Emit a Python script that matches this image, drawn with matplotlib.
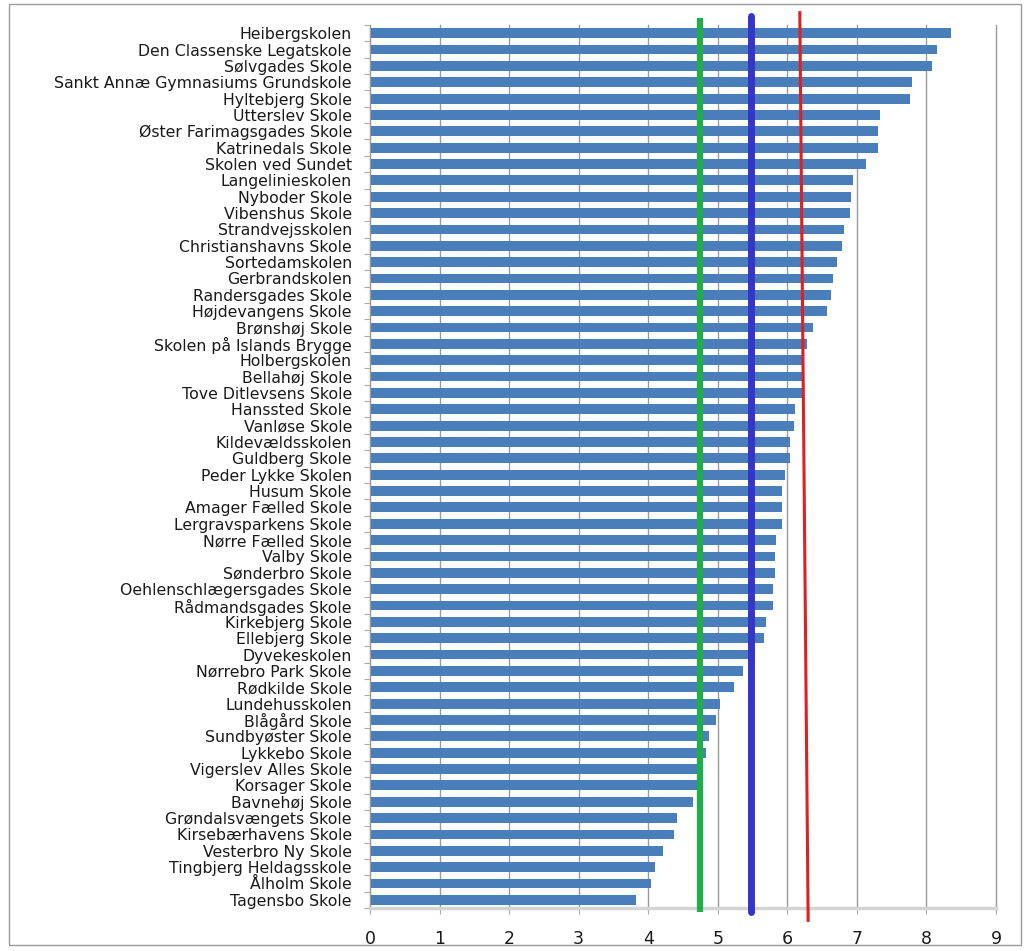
import matplotlib.pyplot as plt
from matplotlib.patches import Rectangle

# schools, top to bottom as in the chart
schools = [
    'Heibergskolen', 'Den Classenske Legatskole', 'Sølvgades Skole',
    'Sankt Annæ Gymnasiums Grundskole', 'Hyltebjerg Skole', 'Utterslev Skole',
    'Øster Farimagsgades Skole', 'Katrinedals Skole', 'Skolen ved Sundet',
    'Langelinieskolen', 'Nyboder Skole', 'Vibenshus Skole', 'Strandvejsskolen',
    'Christianshavns Skole', 'Sortedamskolen', 'Gerbrandskolen',
    'Randersgades Skole', 'Højdevangens Skole', 'Brønshøj Skole',
    'Skolen på Islands Brygge', 'Holbergskolen', 'Bellahøj Skole',
    'Tove Ditlevsens Skole', 'Hanssted Skole', 'Vanløse Skole',
    'Kildevældsskolen', 'Guldberg Skole', 'Peder Lykke Skolen', 'Husum Skole',
    'Amager Fælled Skole', 'Lergravsparkens Skole', 'Nørre Fælled Skole',
    'Valby Skole', 'Sønderbro Skole', 'Oehlenschlægersgades Skole',
    'Rådmandsgades Skole', 'Kirkebjerg Skole', 'Ellebjerg Skole',
    'Dyvekeskolen', 'Nørrebro Park Skole', 'Rødkilde Skole', 'Lundehusskolen',
    'Blågård Skole', 'Sundbyøster Skole', 'Lykkebo Skole',
    'Vigerslev Alles Skole', 'Korsager Skole', 'Bavnehøj Skole',
    'Grøndalsvængets Skole', 'Kirsebærhavens Skole', 'Vesterbro Ny Skole',
    'Tingbjerg Heldagsskole', 'Ålholm Skole', 'Tagensbo Skole',
]

values = [
    8.36, 8.15, 8.08, 7.80, 7.76, 7.33, 7.31, 7.30, 7.13, 6.95, 6.92, 6.90,
    6.82, 6.79, 6.72, 6.66, 6.63, 6.57, 6.37, 6.28, 6.24, 6.22, 6.22, 6.11,
    6.10, 6.04, 6.04, 5.96, 5.93, 5.93, 5.92, 5.84, 5.83, 5.82, 5.79, 5.79,
    5.69, 5.66, 5.53, 5.37, 5.23, 5.03, 4.97, 4.88, 4.83, 4.72, 4.72, 4.64,
    4.42, 4.37, 4.22, 4.10, 4.04, 3.82,
]

# reference lines (red one runs slightly slanted from top to bottom)
green_x = 4.75
blue_x = 5.48
red_x = [6.18, 6.30]

xticks = list(range(0, 10))

plt.rcParams['font.family'] = ['DejaVu Sans']

fig = plt.figure(figsize=(10.26, 9.51), dpi=100)
ax = fig.add_axes([0.3606, 0.0452, 0.6101, 0.9285])

ypos = list(range(len(schools)))
ax.barh(ypos, values, height=0.6, color='#4a7ebb', zorder=2)

ax.set_ylim(len(schools) - 0.5, -0.5)
ax.set_xlim(0, 9)

ax.set_yticks(ypos)
ax.set_yticklabels(schools, fontsize=11.3, color='#1a1a1a')
ax.set_yticks([i + 0.5 for i in range(-1, len(schools))], minor=True)
ax.tick_params(axis='y', which='major', length=0, pad=13)
ax.tick_params(axis='y', which='minor', length=4, color='#aaaaaa', width=0.8)

ax.set_xticks(xticks)
ax.set_xticklabels([str(t) for t in xticks], fontsize=12.5, color='#1a1a1a')
ax.tick_params(axis='x', length=4, color='#aaaaaa', pad=12)

ax.grid(axis='x', color='#9a9a9a', linewidth=1.0, zorder=1)
ax.set_axisbelow(True)
for gl in ax.get_xgridlines():
    gl.set_clip_on(False)

for side in ['top', 'right']:
    ax.spines[side].set_visible(False)
ax.spines['left'].set_color('#9a9a9a')
ax.spines['bottom'].set_color('#d4d4d4')
ax.spines['bottom'].set_linewidth(2.5)

trans = ax.get_xaxis_transform()
ax.plot([green_x, green_x], [1.008, -0.004], color='#1fae4a', linewidth=4.5,
        transform=trans, clip_on=False, zorder=4, solid_capstyle='butt')
ax.plot([blue_x, blue_x], [1.010, -0.004], color='#3535cc', linewidth=5,
        transform=trans, clip_on=False, zorder=4, solid_capstyle='round')
ax.plot(red_x, [1.014, -0.014], color='#dd2020', linewidth=2.2,
        transform=trans, clip_on=False, zorder=4)

# chart area frame
fig.patches.append(Rectangle((0.009, 0.006), 0.986, 0.990, transform=fig.transFigure,
                             fill=False, edgecolor='#9a9a9a', linewidth=1.0))

fig.savefig('out.png', dpi=100)
